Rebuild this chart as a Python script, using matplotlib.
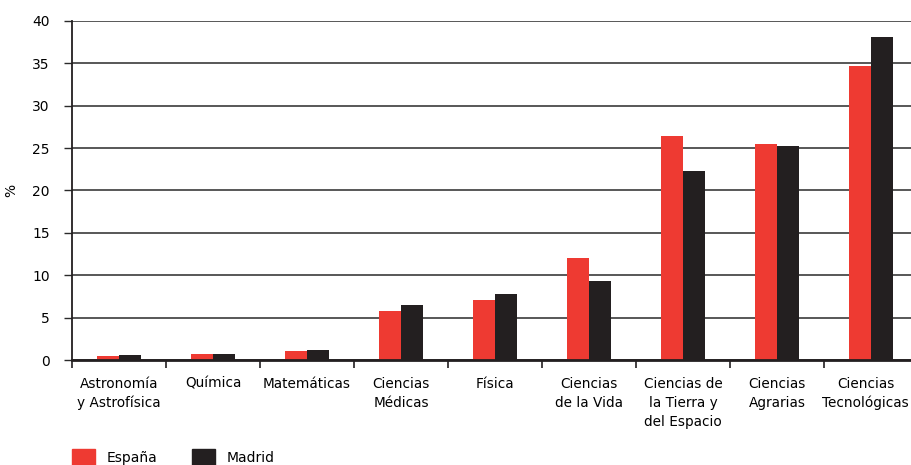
import numpy as np
import matplotlib.pyplot as plt
import matplotlib.transforms as mtransforms
from matplotlib.patches import Patch

plt.rcParams['font.family'] = ['Liberation Sans Narrow', 'DejaVu Sans']

categories = ['Astronomía\ny Astrofísica', 'Química', 'Matemáticas', 'Ciencias\nMédicas',
              'Física', 'Ciencias\nde la Vida', 'Ciencias de\nla Tierra y\ndel Espacio',
              'Ciencias\nAgrarias', 'Ciencias\nTecnológicas']
espana = [0.45, 0.7, 1.05, 5.8, 7.1, 12.0, 26.4, 25.5, 34.7]
madrid = [0.6, 0.7, 1.2, 6.5, 7.8, 9.3, 22.3, 25.25, 38.1]
y_ticks = [0, 5, 10, 15, 20, 25, 30, 35, 40]

red = '#ee3a32'
black = '#231f20'

fig = plt.figure(figsize=(9.11, 4.65), dpi=100)
ax = fig.add_axes([72 / 911, 105 / 465, 846 / 911, 339 / 465])

x = np.arange(len(categories)) + 0.5
w = 0.235
ax.bar(x - w / 2, espana, width=w, color=red, zorder=3)
ax.bar(x + w / 2, madrid, width=w, color=black, zorder=3)

ax.set_xlim(0, len(categories))
ax.set_ylim(0, 40)
ax.set_yticks(y_ticks)
ax.yaxis.grid(True, color='#2a2a2a', linewidth=1.1, zorder=1)
ax.tick_params(axis='y', length=6, width=1, color='#2a2a2a', labelsize=10, pad=10)

ax.set_xticks(x)
ax.set_xticklabels(categories, fontsize=9.8, linespacing=1.45, va='top')
ax.tick_params(axis='x', which='major', length=0, pad=12)
ax.set_xticks(np.arange(0, len(categories) + 1), minor=True)
ax.tick_params(axis='x', which='minor', length=6, width=1.2, color='#231f20', direction='out')

# nudge the last label so it stays inside the figure edge
last = ax.get_xticklabels()[-1]
last.set_transform(last.get_transform() + mtransforms.ScaledTranslation(-4 / 72, 0, fig.dpi_scale_trans))

for s in ['top', 'right']:
    ax.spines[s].set_visible(False)
ax.spines['left'].set_linewidth(1.3)
ax.spines['bottom'].set_linewidth(2)
ax.spines['left'].set_color('#231f20')
ax.spines['bottom'].set_color('#231f20')
ax.spines['bottom'].set_zorder(4)

ax.set_ylabel('%', fontsize=10)
ax.yaxis.set_label_coords(-0.064, 0.5)

handles = [Patch(color=red, label='España'), Patch(color=black, label='Madrid')]
fig.legend(handles=handles, loc='upper left', bbox_to_anchor=(72 / 911, 1 - 449 / 465),
           ncol=2, frameon=False, fontsize=10, handlelength=1.65, handleheight=1.4,
           handletextpad=0.85, columnspacing=2.5, borderaxespad=0, borderpad=0)

fig.savefig('out.png', dpi=100)
